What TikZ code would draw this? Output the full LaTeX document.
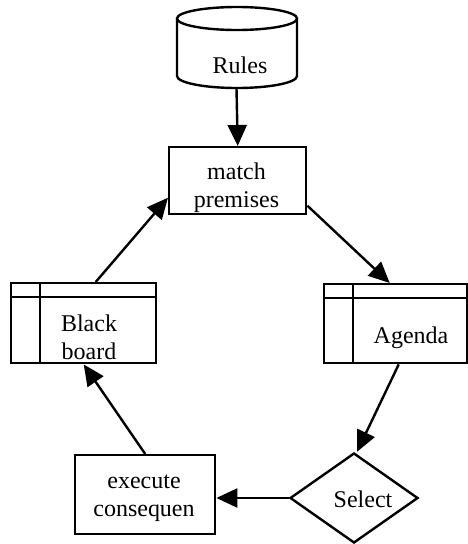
\documentclass[tikz,border=0pt]{standalone}
\usepackage{fontspec}
\setmainfont{Liberation Serif}
\usetikzlibrary{arrows.meta,shapes.geometric}
\begin{document}
\begin{tikzpicture}[x=1pt,y=-1pt,
  line width=2.4pt,
  lbl/.style={font=\fontsize{24}{28}\selectfont, align=center, inner sep=0pt},
  boxa/.style={draw, rectangle, inner sep=0pt, anchor=north west},
  arr/.style={-{Triangle[length=21pt,width=19pt]}, line width=2.4pt}]
\useasboundingbox (0,0) rectangle (467,544);
% Rules cylinder
\draw (177,18.5) -- (177,76) arc[start angle=180,end angle=360,x radius=60,y radius=-12] -- (297,18.5);
\draw (237,18.5) ellipse[x radius=60,y radius=11.5];
\node[lbl] (rules) at (240,65) {Rules};
\coordinate (rulesbot) at (236.5,88);
% match premises
\node[boxa, minimum width=137pt, minimum height=67pt] (match) at (168,146) {};
\node[lbl] (matcht) at (236.5,188) {match\\premises};
% Black board
\node[boxa, minimum width=145pt, minimum height=80pt] (bb) at (10,282) {};
\draw (bb.north west) ++(30,0) coordinate (bbv) -- (bbv |- bb.south);
\draw (bb.north west) ++(0,15) coordinate (bbh) -- (bbh -| bb.east);
\node[lbl] (bbt) at (89,337) {Black\\board};
% Agenda
\node[boxa, minimum width=143pt, minimum height=79pt] (agenda) at (323,283) {};
\draw (agenda.north west) ++(30,0) coordinate (agv) -- (agv |- agenda.south);
\draw (agenda.north west) ++(0,15) coordinate (agh) -- (agh -| agenda.east);
\node[lbl] (agt) at (411,338) {Agenda};
% Select diamond
\node[draw, diamond, inner sep=0pt, minimum width=128pt, minimum height=90pt] (select) at (354,498) {};
\node[lbl] (selt) at (363,499) {Select};
% execute consequen
\node[boxa, minimum width=140pt, minimum height=79pt] (exec) at (74,454) {};
\node[lbl] (exect) at (144,498) {execute\\consequen};
% connectors
\draw[arr] (rulesbot) -- (match.north);
\draw[arr] ([yshift=-25pt]match.east) -- ([xshift=-6pt]agenda.north);
\draw[arr] ([xshift=3pt]agenda.south) -- ([xshift=3pt]select.north);
\draw[arr] (select.west) -- (select.west -| exec.east);
\draw[arr] (exec.north) -- (bb.south);
\draw[arr] ([xshift=12pt]bb.north) -- ([yshift=-17pt]match.west);
\end{tikzpicture}
\end{document}
